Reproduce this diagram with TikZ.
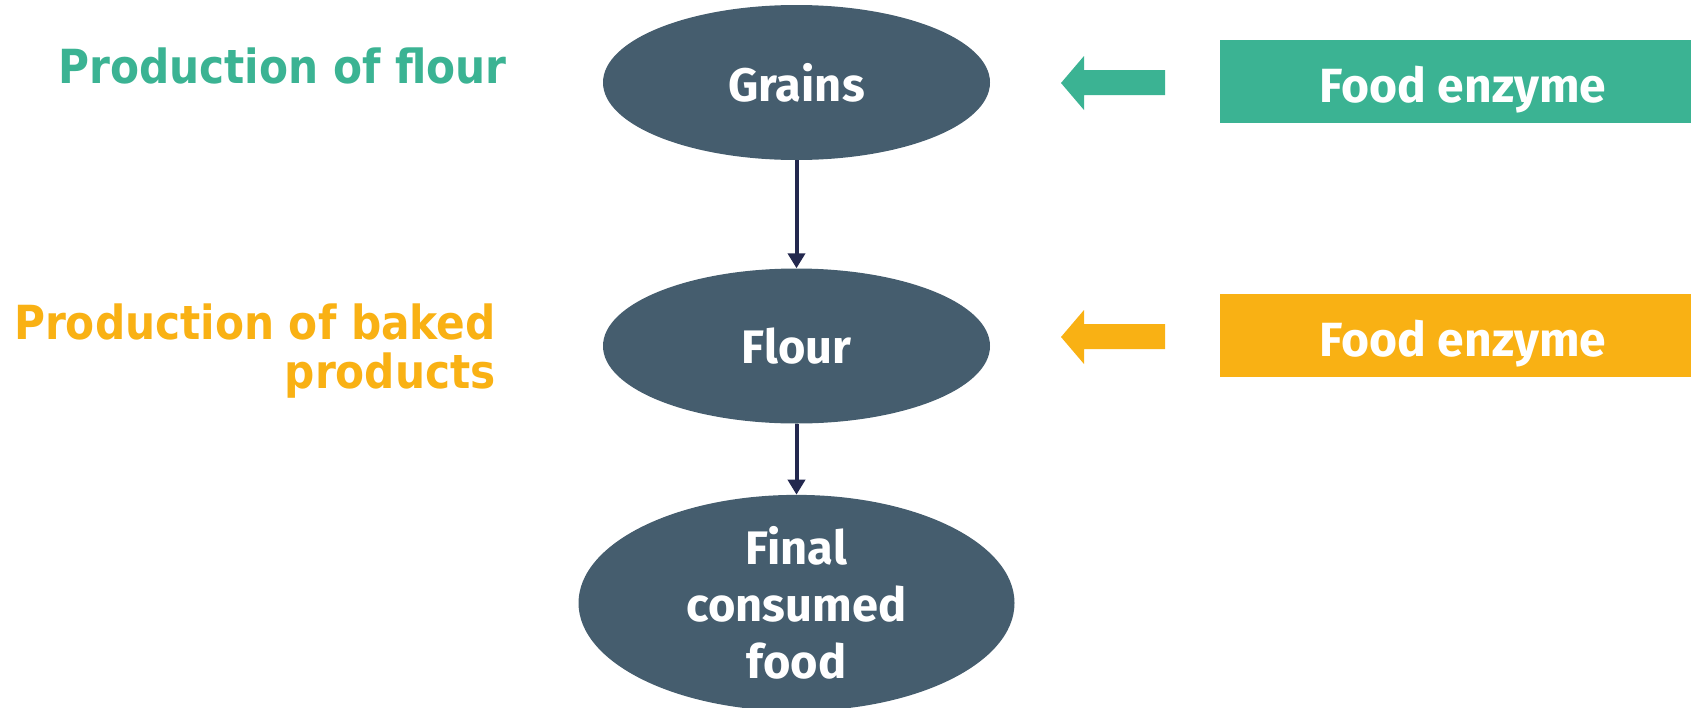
\documentclass[tikz,border=0pt]{standalone}
\usepackage{fontspec}
\setmainfont{Fira Sans}
\newfontfamily\labfont{DejaVu Sans Condensed}
\usetikzlibrary{shapes.geometric,arrows.meta}
\definecolor{egreen}{RGB}{59,179,147}
\definecolor{eorange}{RGB}{249,177,20}
\definecolor{eslate}{RGB}{69,93,110}
\definecolor{enavy}{RGB}{35,40,78}
\tikzset{
  stage/.style={ellipse, fill=eslate, text=white, inner sep=0pt, align=center,
    font=\fontsize{47}{57}\selectfont\bfseries},
  enzbox/.style={rectangle, inner sep=0pt, text=white, minimum width=486pt, minimum height=83pt,
    text height=41pt, text depth=0pt, font=\fontsize{48}{57}\selectfont\bfseries},
  flowarrow/.style={draw=enavy, line width=4pt, -{Triangle[length=15pt,width=17pt]}},
  steplabel/.style={inner sep=0pt, align=right, font=\labfont\bfseries\fontsize{47}{49}\selectfont}
}
\begin{document}
\begin{tikzpicture}[x=1pt,y=-1pt]
\useasboundingbox (0,0) rectangle (1691,707);
\node[stage, minimum width=387pt, minimum height=155pt] (grains) at (796.5,82.5) {Grains};
\node[stage, minimum width=387pt, minimum height=155pt] (flour) at (796.5,346) {Flour};
\node[stage, minimum width=436pt, minimum height=210pt] (final) at (796.5,603) {Final\\consumed\\food};
\draw[flowarrow] (grains.south) -- (flour.north);
\draw[flowarrow] (flour.south) -- (final.north);
\node[enzbox, fill=egreen] (enz1) at (1463,81.5) {Food enzyme};
\node[enzbox, fill=eorange] (enz2) at (1463,335.5) {Food enzyme};
\fill[egreen] (1061,83) -- (1084,56) -- (1084,70) -- (1165,70) -- (1165,95) -- (1084,95) -- (1084,110) -- cycle;
\fill[eorange] (1061,337) -- (1084,310) -- (1084,324) -- (1165,324) -- (1165,349) -- (1084,349) -- (1084,364) -- cycle;
\node[steplabel, text=egreen, anchor=base east] (lab1) at (507,83) {Production of flour};
\node[steplabel, text=eorange, anchor=north east] (lab2) at (496,304) {Production of baked\\products};
\end{tikzpicture}
\end{document}
